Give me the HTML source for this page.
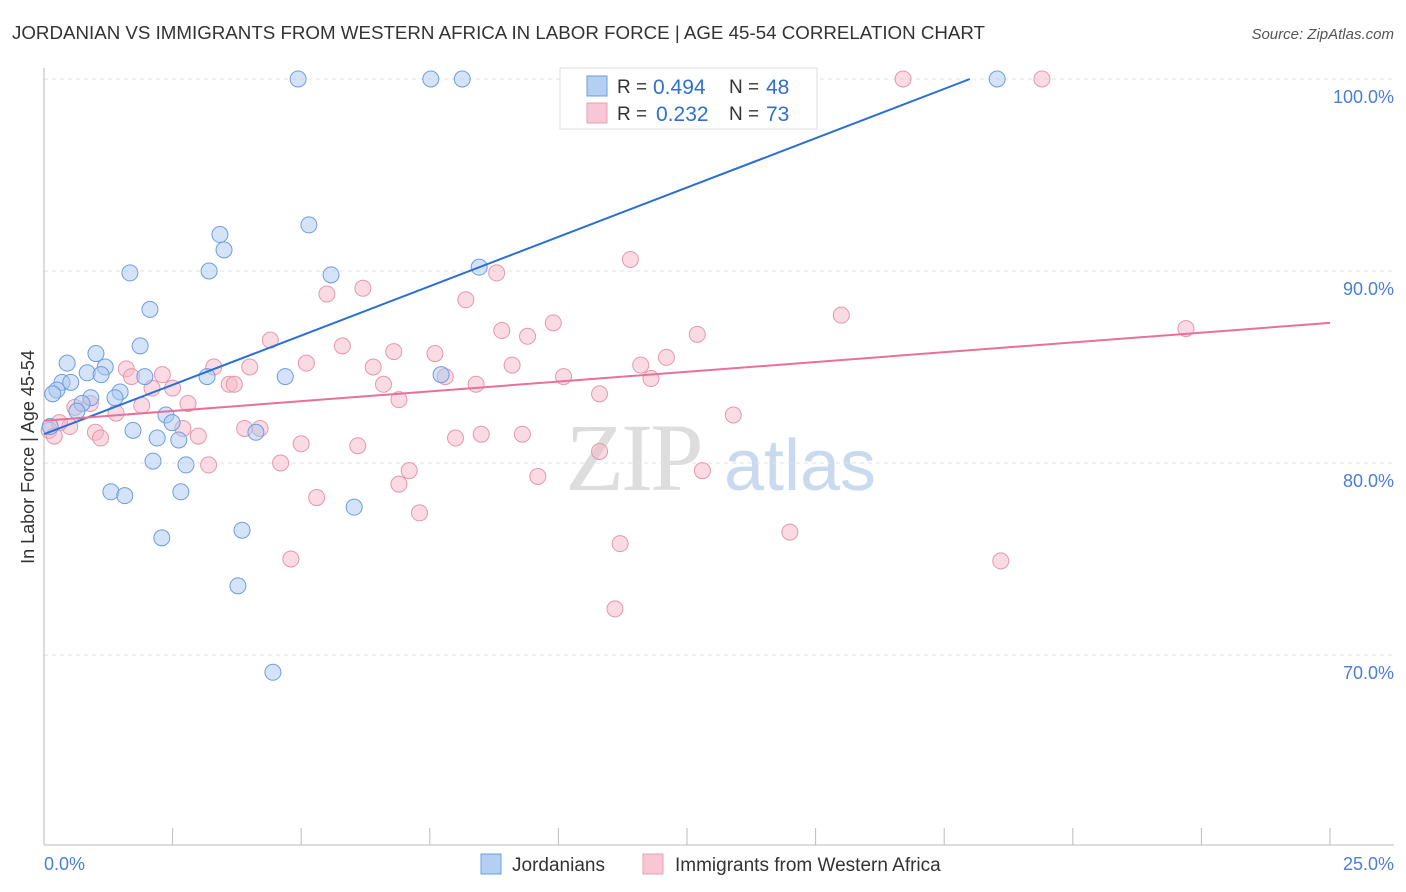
<!DOCTYPE html>
<html><head><meta charset="utf-8"><style>
body{margin:0;background:#fff;font-family:"Liberation Sans",sans-serif}
svg{display:block}
</style></head><body>
<svg id="chart" width="1406" height="892">
<text x="12" y="39" font-size="18" fill="#333" textLength="973" lengthAdjust="spacingAndGlyphs">JORDANIAN VS IMMIGRANTS FROM WESTERN AFRICA IN LABOR FORCE | AGE 45-54 CORRELATION CHART</text>
<text x="1394" y="39" font-size="15" fill="#555" font-style="italic" text-anchor="end">Source: ZipAtlas.com</text>
<g>
<text x="633" y="490" font-size="96" fill="#ddd" text-anchor="middle" font-family="Liberation Serif,serif" letter-spacing="-3">ZIP</text>
<text x="800" y="490" font-size="72" fill="#c9daf0" text-anchor="middle">atlas</text>
</g>
<g id="grid"></g><g id="axes"></g><g id="marks"></g>
<text transform="translate(34,457) rotate(-90)" font-size="18" fill="#333" text-anchor="middle">In Labor Force | Age 45-54</text>
<text x="44" y="870" font-size="18" fill="#4a7fd4">0.0%</text>
<text x="1394" y="870" font-size="18" fill="#4a7fd4" text-anchor="end">25.0%</text>
<g>
<rect x="560" y="68" width="257" height="61" fill="#fff" stroke="#ddd"/>
<rect x="587" y="76" width="20" height="20" fill="#b4cff2" stroke="#6c9ee0"/>
<rect x="587" y="103" width="20" height="20" fill="#f8c6d4" stroke="#e8a0b5"/>
<text x="617" y="93" font-size="19" fill="#333">R =</text>
<text x="653" y="94" font-size="21" fill="#2f6fd0">0.494</text>
<text x="729" y="93" font-size="19" fill="#333">N =</text>
<text x="766" y="94" font-size="21" fill="#2f6fd0">48</text>
<text x="617" y="120" font-size="19" fill="#333">R =</text>
<text x="656" y="121" font-size="21" fill="#2f6fd0">0.232</text>
<text x="729" y="120" font-size="19" fill="#333">N =</text>
<text x="766" y="121" font-size="21" fill="#2f6fd0">73</text>
</g>
<g>
<rect x="481" y="854" width="20" height="20" fill="#b4cff2" stroke="#6c9ee0"/>
<text x="512" y="871" font-size="19" fill="#333">Jordanians</text>
<rect x="643" y="854" width="20" height="20" fill="#f8c6d4" stroke="#e8a0b5"/>
<text x="675" y="871" font-size="19" fill="#333">Immigrants from Western Africa</text>
</g>
</svg>
<script>
const yTicks=[100,90,80,70];
const yTickLabels=["100.0%","90.0%","80.0%","70.0%"];
const xTicks=[0,2.5,5,7.5,10,12.5,15,17.5,20,22.5,25];
const jordX=[4.94,7.52,8.13,18.53,5.15,3.42,3.50,1.67,3.21,5.58,8.46,2.06,1.87,1.01,0.45,1.19,0.84,1.11,1.96,3.17,4.69,7.72,0.35,0.52,0.25,0.17,1.48,0.91,1.38,0.74,0.64,2.37,2.49,1.73,4.12,2.20,2.62,0.12,2.12,2.76,1.30,1.57,2.66,6.03,3.85,2.29,3.77,4.45];
const jordY=[100,100,100,100,92.4,91.9,91.1,89.9,90.0,89.8,90.2,88.0,86.1,85.7,85.2,85.0,84.7,84.6,84.5,84.5,84.5,84.6,84.2,84.2,83.8,83.6,83.7,83.4,83.4,83.1,82.7,82.5,82.1,81.7,81.6,81.3,81.2,81.9,80.1,79.9,78.5,78.3,78.5,77.7,76.5,76.1,73.6,69.1];
const immX=[16.7,19.4,11.4,8.8,5.5,6.2,8.2,15.5,22.2,9.9,8.9,9.4,12.7,4.4,5.8,6.8,7.6,12.1,11.6,9.1,5.1,6.4,4.0,3.3,1.6,1.7,2.3,7.8,10.1,11.8,8.4,6.6,3.6,3.7,2.1,2.5,6.9,10.8,2.8,1.9,1.4,0.9,0.6,13.4,0.5,0.3,0.1,0.2,3.9,4.2,2.7,1.0,1.1,3.0,8.5,8.0,9.3,5.0,6.1,10.8,3.2,4.6,7.1,9.6,12.8,6.9,5.3,7.3,11.2,4.8,14.5,18.6,11.1];
const immY=[100,100,90.6,89.9,88.8,89.1,88.5,87.7,87.0,87.3,86.9,86.6,86.7,86.4,86.1,85.8,85.7,85.5,85.1,85.1,85.2,85.0,85.0,85.0,84.9,84.5,84.6,84.5,84.5,84.4,84.1,84.1,84.1,84.1,83.9,83.9,83.3,83.6,83.1,83.0,82.6,83.1,82.9,82.5,81.9,82.1,81.7,81.4,81.8,81.8,81.8,81.6,81.3,81.4,81.5,81.3,81.5,81.0,80.9,80.6,79.9,80.0,79.6,79.3,79.6,78.9,78.2,77.4,75.8,75.0,76.4,74.9,72.4];
const jordLine=[0,81.5,18.0,100];
const immLine=[0,82.2,25,87.3];
const X=v=>44+v/25*1286, Y=v=>79+(100-v)*19.2;
const NS="http://www.w3.org/2000/svg";
function mk(t,a,p){const e=document.createElementNS(NS,t);for(const k in a)e.setAttribute(k,a[k]);p.appendChild(e);return e;}
const grid=document.getElementById('grid'),axes=document.getElementById('axes'),marks=document.getElementById('marks');
yTicks.forEach((v,i)=>{
 const l=mk('line',{x1:44,x2:1394,y1:Y(v),y2:Y(v),stroke:'#e2e2e2','stroke-dasharray':'4,4'},grid);
 
 
 const t=mk('text',{x:1394,y:Y(v)+24,'font-size':18,fill:'#4a7fd4','text-anchor':'end'},axes);
 t.textContent=yTickLabels[i];
 
 
});
const xa=mk('line',{x1:44,x2:1394,y1:845,y2:845,stroke:'#bbb'},axes);


const ya=mk('line',{x1:44,x2:44,y1:68,y2:845,stroke:'#bbb'},axes);


xTicks.forEach(v=>{
 const t=mk('line',{x1:X(v),x2:X(v),y1:828,y2:845,stroke:'#bbb'},axes);
 
 
});
function pts(xs,ys,fill,stroke,name){xs.forEach((x,i)=>{
 const c=mk('circle',{cx:X(x),cy:Y(ys[i]),r:8,fill:fill,'fill-opacity':0.5,stroke:stroke,'stroke-width':1},marks);
 
 
});}
pts(immX,immY,'#f5b8c8','#e497ad','immigrant-point');
pts(jordX,jordY,'#a9c8f0','#6c9ee0','jordanian-point');
const l1=mk('line',{x1:X(jordLine[0]),y1:Y(jordLine[1]),x2:X(jordLine[2]),y2:Y(jordLine[3]),stroke:'#2a6fd6','stroke-width':2},marks);


const l2=mk('line',{x1:X(immLine[0]),y1:Y(immLine[1]),x2:X(immLine[2]),y2:Y(immLine[3]),stroke:'#e8709a','stroke-width':2},marks);


</script>
</body></html>
